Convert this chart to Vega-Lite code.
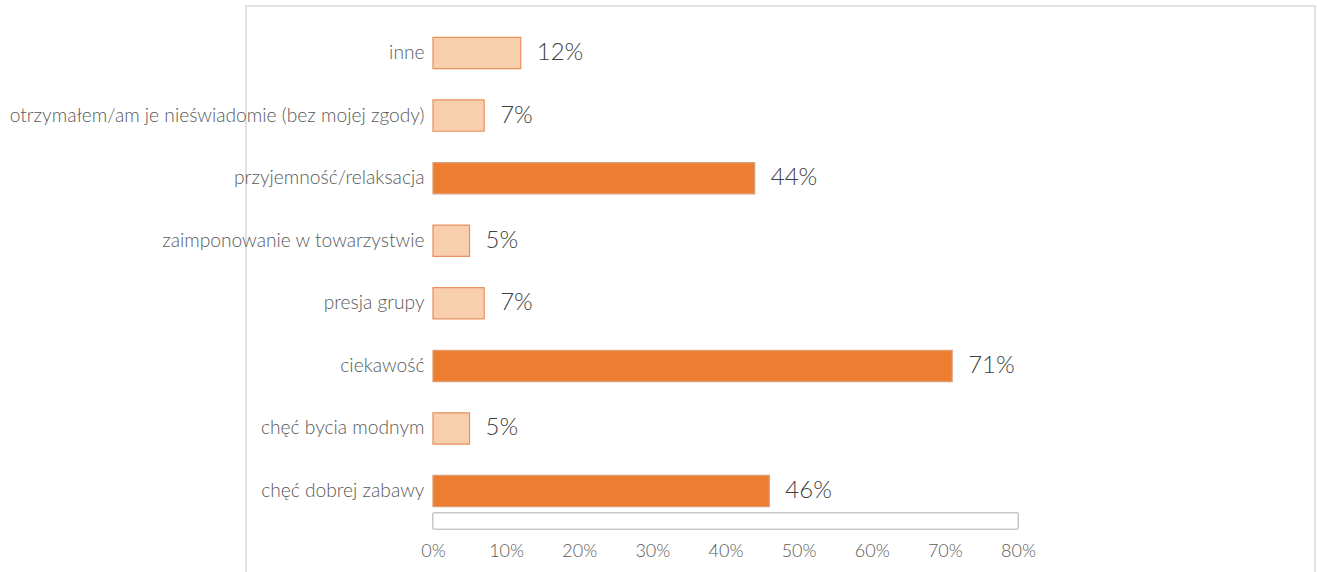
{
  "$schema": "https://vega.github.io/schema/vega-lite/v6.json",
  "autosize": {"type": "none"},
  "width": 1069,
  "height": 575,
  "padding": {"left": 246, "top": 6, "right": 2, "bottom": 0},
  "background": "white",
  "config": {
    "view": {"stroke": "#d9d9d9", "strokeWidth": 1.5},
    "font": "Lato"
  },
  "data": {
    "values": [
      {"kategoria": "inne", "wartosc": 0.12, "grupa": "mniejsze"},
      {"kategoria": "otrzymałem/am je nieświadomie (bez mojej zgody)", "wartosc": 0.07, "grupa": "mniejsze"},
      {"kategoria": "przyjemność/relaksacja", "wartosc": 0.44, "grupa": "główne"},
      {"kategoria": "zaimponowanie w towarzystwie", "wartosc": 0.05, "grupa": "mniejsze"},
      {"kategoria": "presja grupy", "wartosc": 0.07, "grupa": "mniejsze"},
      {"kategoria": "ciekawość", "wartosc": 0.71, "grupa": "główne"},
      {"kategoria": "chęć bycia modnym", "wartosc": 0.05, "grupa": "mniejsze"},
      {"kategoria": "chęć dobrej zabawy", "wartosc": 0.46, "grupa": "główne"}
    ]
  },
  "encoding": {
    "y": {
      "field": "kategoria",
      "type": "nominal",
      "sort": null,
      "title": null,
      "scale": {
        "domain": ["inne", "otrzymałem/am je nieświadomie (bez mojej zgody)", "przyjemność/relaksacja", "zaimponowanie w towarzystwie", "presja grupy", "ciekawość", "chęć bycia modnym", "chęć dobrej zabawy"],
        "paddingInner": 0.5, "paddingOuter": 0.845, "align": 0.297
      },
      "axis": {
        "orient": "left",
        "offset": -187,
        "domain": false,
        "ticks": false,
        "labelPadding": 9,
        "labelFont": "Lato",
        "labelFontSize": 19.2,
        "labelFontWeight": 300,
        "labelColor": "#595959",
        "labelLimit": 600
      }
    }
  },
  "layer": [
    {
      "mark": {"type": "rect", "fill": "white", "stroke": "#c8c8c8", "strokeWidth": 1, "height": 16, "yOffset": 30},
      "encoding": {
        "y": {"datum": "chęć dobrej zabawy"},
        "x": {"datum": 0},
        "x2": {"datum": 0.8}
      }
    },
    {
      "mark": {"type": "bar", "strokeWidth": 1.2},
      "encoding": {
        "x": {
          "field": "wartosc",
          "type": "quantitative",
          "title": null,
          "scale": {"domain": [-0.2557, 1.2062], "nice": false, "zero": false},
          "axis": {
            "values": [0, 0.1, 0.2, 0.3, 0.4, 0.5, 0.6, 0.7, 0.8],
            "format": ".0%",
            "offset": -41,
            "labelPadding": 2,
            "domain": false,
            "ticks": false,
            "grid": false,
            "labelFont": "Lato",
            "labelFontSize": 18,
            "labelFontWeight": 300,
            "labelColor": "#595959",
            "labelBaseline": "top"
          }
        },
        "x2": {"datum": 0},
        "fill": {
          "field": "grupa",
          "type": "nominal",
          "scale": {"domain": ["główne", "mniejsze"], "range": ["#ed7d31", "#f8cfad"]},
          "legend": null
        },
        "stroke": {
          "field": "grupa",
          "type": "nominal",
          "scale": {"domain": ["główne", "mniejsze"], "range": ["#d9a07a", "#e8905a"]},
          "legend": null
        }
      }
    },
    {
      "mark": {"type": "text", "align": "left", "baseline": "middle", "dx": 16, "fontSize": 24, "fontWeight": 300, "font": "Lato", "color": "#404040"},
      "encoding": {
        "x": {"field": "wartosc", "type": "quantitative"},
        "text": {"field": "wartosc", "type": "quantitative", "format": ".0%"}
      }
    }
  ]
}
